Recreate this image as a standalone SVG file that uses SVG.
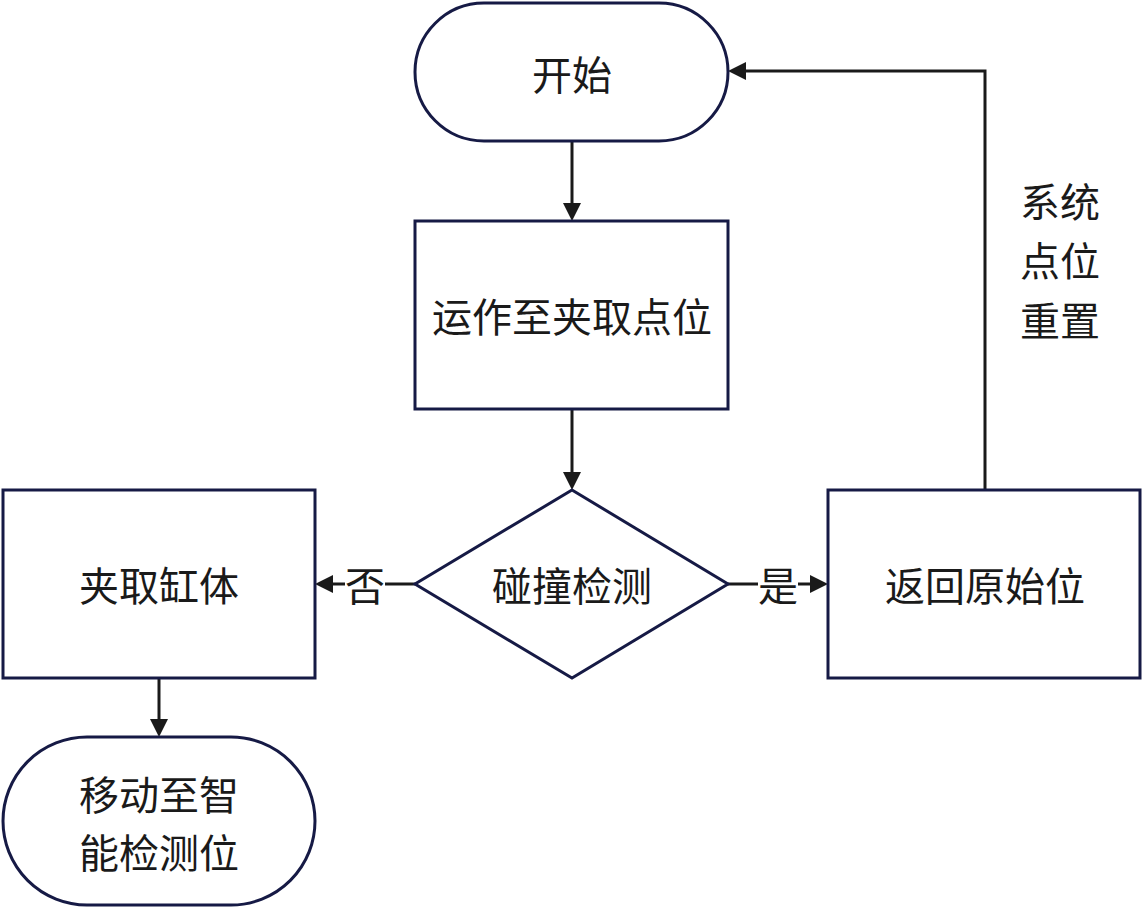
<svg xmlns="http://www.w3.org/2000/svg" width="1144" height="909" viewBox="0 0 1144 909">
<defs>
<style>
.n{fill:#fff;stroke:#161a45;stroke-width:3}
.t{font-family:"Noto Sans CJK SC","Noto Sans",sans-serif;font-size:40px;fill:#1a1a1a;text-anchor:middle;dominant-baseline:central}
.c{fill:none;stroke:#1a1a1a;stroke-width:3}
.a{fill:#1a1a1a}
</style>
</defs>
<rect width="1144" height="909" fill="#fff"/>
<g id="connectors">
<path class="c" d="M572,141 V205"/><path class="a" d="M563,203 L572,221 L581,203 Z"/>
<path class="c" d="M572,409 V474"/><path class="a" d="M563,472 L572,490 L581,472 Z"/>
<path class="c" d="M415,584 H331"/><path class="a" d="M333,575 L315,584 L333,593 Z"/>
<path class="c" d="M728,584 H812"/><path class="a" d="M810,575 L828,584 L810,593 Z"/>
<path class="c" d="M985,490 V71 H744"/><path class="a" d="M746,62 L728,71 L746,80 Z"/>
<path class="c" d="M159,678 V721"/><path class="a" d="M150,719 L159,737 L168,719 Z"/>
<rect x="345" y="564" width="40" height="40" fill="#fff"/>
<text class="t" x="365" y="584">否</text>
<rect x="758" y="564" width="40" height="40" fill="#fff"/>
<text class="t" x="778" y="584">是</text>
<text class="t" x="1060" y="200">系统</text>
<text class="t" x="1060" y="259">点位</text>
<text class="t" x="1060" y="319">重置</text>
</g>
<g id="start">
<rect class="n" x="415" y="3" width="313" height="138" rx="69" ry="69"/>
<text class="t" x="572" y="73">开始</text>
</g>
<g id="move">
<rect class="n" x="415" y="221" width="313" height="188"/>
<text class="t" x="572" y="315">运作至夹取点位</text>
</g>
<g id="detect">
<path class="n" d="M572,490 L728,584 L572,678 L415,584 Z"/>
<text class="t" x="572" y="584">碰撞检测</text>
</g>
<g id="grab">
<rect class="n" x="3" y="490" width="312" height="188"/>
<text class="t" x="159" y="584">夹取缸体</text>
</g>
<g id="return">
<rect class="n" x="828" y="490" width="312" height="188"/>
<text class="t" x="985" y="584">返回原始位</text>
</g>
<g id="end">
<rect class="n" x="3" y="737" width="312" height="168" rx="84" ry="84"/>
<text class="t" x="159" y="793">移动至智</text>
<text class="t" x="159" y="851">能检测位</text>
</g>
</svg>
